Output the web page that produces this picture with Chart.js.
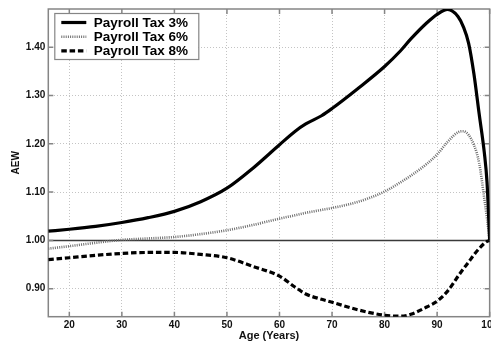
<!DOCTYPE html>
<html>
<head>
<meta charset="utf-8">
<script src="https://cdn.jsdelivr.net/npm/chart.js@4/dist/chart.umd.min.js"></script>
<style>
  html, body { margin: 0; padding: 0; background: #fff; overflow: hidden; }
  #wrap { width: 501px; height: 344px; }
</style>
</head>
<body>
<div id="wrap"><canvas id="aew" width="501" height="344"></canvas></div>
<script>
// Age grid (years) shared by all three series
const AGES = [16, 20, 25, 30, 35, 40, 45, 50, 55, 60, 63, 65, 68, 70, 75, 80, 83, 85, 88, 90, 92, 94, 95, 96, 97, 98, 99, 99.5, 100];

// AEW by age for each payroll tax rate
const TAX_3 = [1.019, 1.023, 1.029, 1.037, 1.047, 1.060, 1.080, 1.108, 1.150, 1.198, 1.226, 1.241, 1.258, 1.273, 1.315, 1.360, 1.392, 1.417, 1.450, 1.468, 1.478, 1.463, 1.442, 1.408, 1.345, 1.262, 1.180, 1.120, 1.000];
const TAX_6 = [0.983, 0.988, 0.995, 1.001, 1.004, 1.007, 1.013, 1.021, 1.032, 1.045, 1.052, 1.057, 1.063, 1.067, 1.080, 1.101, 1.120, 1.134, 1.158, 1.178, 1.204, 1.224, 1.226, 1.218, 1.198, 1.160, 1.085, 1.045, 1.000];
const TAX_8 = [0.960, 0.964, 0.969, 0.973, 0.975, 0.975, 0.971, 0.964, 0.946, 0.926, 0.903, 0.889, 0.878, 0.872, 0.856, 0.845, 0.843, 0.847, 0.862, 0.874, 0.895, 0.926, 0.941, 0.955, 0.970, 0.983, 0.994, 0.998, 1.000];

const SERIES_LABELS = ['Payroll Tax 3%', 'Payroll Tax 6%', 'Payroll Tax 8%'];
const X_TICKS = [20, 30, 40, 50, 60, 70, 80, 90, 100];
const Y_TICKS = [0.90, 1.00, 1.10, 1.20, 1.30, 1.40];
const REFERENCE_LEVEL = 1.0;

const FONT = '"Liberation Sans", Arial, Helvetica, sans-serif';
const FRAME = '#858585';

const toPoints = (ys) => AGES.map((a, i) => ({ x: a, y: ys[i] }));

// Horizontal reference line at AEW = 1
const referenceLine = {
  id: 'referenceLine',
  beforeDatasetsDraw(chart) {
    const { ctx, chartArea: a, scales: { y } } = chart;
    const py = y.getPixelForValue(REFERENCE_LEVEL);
    ctx.save();
    ctx.strokeStyle = '#3a3a3a';
    ctx.lineWidth = 1.5;
    ctx.beginPath();
    ctx.moveTo(a.left, py);
    ctx.lineTo(a.right, py);
    ctx.stroke();
    ctx.restore();
  }
};

// Box around the plot with inward tick marks on all four sides
const plotFrame = {
  id: 'plotFrame',
  beforeDatasetsDraw(chart) {
    const { ctx, chartArea: a, scales: { x, y } } = chart;
    const len = 5;
    ctx.save();
    ctx.strokeStyle = FRAME;
    ctx.lineWidth = 1.5;
    ctx.strokeRect(a.left, a.top, a.right - a.left, a.bottom - a.top);
    ctx.beginPath();
    x.ticks.forEach(t => {
      const px = x.getPixelForValue(t.value);
      ctx.moveTo(px, a.bottom); ctx.lineTo(px, a.bottom - len);
      ctx.moveTo(px, a.top); ctx.lineTo(px, a.top + len);
    });
    y.ticks.forEach(t => {
      const py = y.getPixelForValue(t.value);
      ctx.moveTo(a.left, py); ctx.lineTo(a.left + len, py);
      ctx.moveTo(a.right, py); ctx.lineTo(a.right - len, py);
    });
    ctx.stroke();
    ctx.restore();
  }
};

// Framed legend in the upper-left corner of the plot
const boxedLegend = {
  id: 'boxedLegend',
  afterDatasetsDraw(chart) {
    const { ctx, chartArea: a } = chart;
    const bx = a.left + 6, by = a.top + 4, bw = 144, bh = 46;
    ctx.save();
    ctx.fillStyle = '#fff';
    ctx.fillRect(bx, by, bw, bh);
    ctx.strokeStyle = FRAME;
    ctx.lineWidth = 1.2;
    ctx.strokeRect(bx + 0.5, by + 0.5, bw, bh);
    ctx.font = 'bold 13.5px ' + FONT;
    ctx.textBaseline = 'middle';
    chart.data.datasets.forEach((ds, i) => {
      const ry = by + 9.5 + i * 14.2;
      ctx.strokeStyle = ds.borderColor;
      ctx.lineWidth = ds.borderWidth;
      ctx.setLineDash(ds.borderDash || []);
      ctx.beginPath();
      ctx.moveTo(bx + 7, ry);
      ctx.lineTo(bx + 32, ry);
      ctx.stroke();
      ctx.setLineDash([]);
      ctx.fillStyle = '#000';
      ctx.fillText(ds.label, bx + 39.5, ry + 0.5);
    });
    ctx.restore();
  }
};

new Chart(document.getElementById('aew'), {
  type: 'line',
  data: {
    datasets: [
      { label: SERIES_LABELS[0], data: toPoints(TAX_3), borderColor: '#000', borderWidth: 3.2, borderDash: [] },
      { label: SERIES_LABELS[1], data: toPoints(TAX_6), borderColor: '#6e6e6e', borderWidth: 2.6, borderDash: [1, 1.2] },
      { label: SERIES_LABELS[2], data: toPoints(TAX_8), borderColor: '#000', borderWidth: 3.2, borderDash: [5.5, 2.8] }
    ]
  },
  options: {
    responsive: false,
    animation: false,
    events: [],
    layout: { padding: { top: 7, left: 0, right: 0, bottom: 0 } },
    datasets: { line: { pointRadius: 0, cubicInterpolationMode: 'monotone', clip: 0, fill: false } },
    plugins: { legend: { display: false }, tooltip: { enabled: false } },
    scales: {
      x: {
        type: 'linear',
        min: 16,
        max: 100,
        afterBuildTicks: (s) => { s.ticks = X_TICKS.map(v => ({ value: v })); },
        afterFit: (s) => { s.height = 27.3; },
        ticks: {
          padding: 3,
          color: '#111',
          font: { family: FONT, size: 10, weight: 'bold' },
          maxRotation: 0,
          callback: (v) => String(v)
        },
        grid: { color: '#c4c4c4', lineWidth: 1, drawTicks: false },
        border: { display: false, dash: [1, 2] },
        title: {
          display: true,
          text: 'Age (Years)',
          color: '#111',
          font: { family: FONT, size: 11, weight: 'bold' },
          padding: { top: 0, bottom: 1 }
        }
      },
      y: {
        type: 'linear',
        min: 0.842,
        max: 1.479,
        afterBuildTicks: (s) => { s.ticks = Y_TICKS.map(v => ({ value: v })); },
        afterFit: (s) => { s.width = 48.3; },
        ticks: {
          padding: 3,
          color: '#111',
          font: { family: FONT, size: 10, weight: 'bold' },
          callback: (v) => Number(v).toFixed(2)
        },
        grid: { color: '#c4c4c4', lineWidth: 1, drawTicks: false },
        border: { display: false, dash: [1, 2] },
        title: {
          display: true,
          text: 'AEW',
          color: '#111',
          font: { family: FONT, size: 10, weight: 'bold' },
          padding: { top: 10.5, bottom: 0 }
        }
      }
    }
  },
  plugins: [referenceLine, plotFrame, boxedLegend]
});
</script>
</body>
</html>
